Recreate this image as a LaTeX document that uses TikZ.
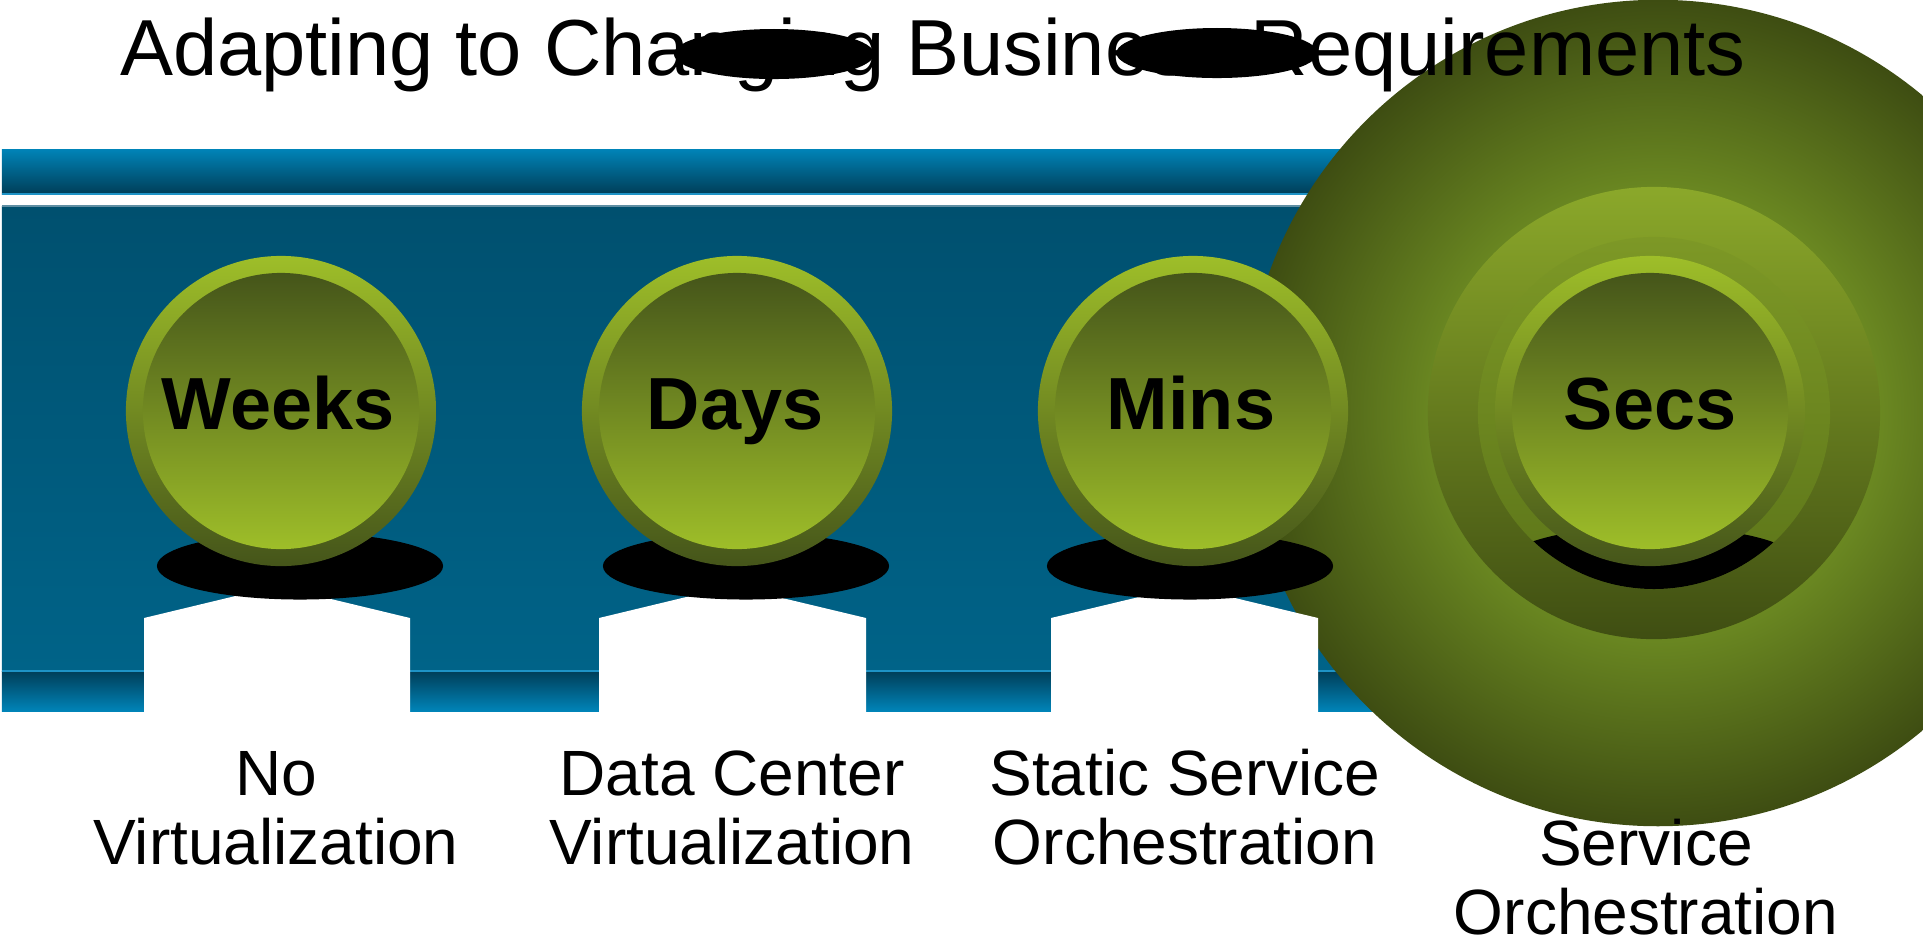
\documentclass[tikz,border=0pt]{standalone}
\usepackage{fontspec}
\setmainfont{Liberation Sans}
\usetikzlibrary{shapes.geometric}
\definecolor{barlight}{HTML}{0084B8}
\definecolor{bardark}{HTML}{003E58}
\definecolor{paneltop}{HTML}{00506F}
\definecolor{panelbottom}{HTML}{006388}
\definecolor{edgeblue}{HTML}{1E93C6}
\definecolor{panelrim}{HTML}{5F8EA3}
\definecolor{greenlight}{HTML}{9EBE29}
\definecolor{greendark}{HTML}{45551A}
\definecolor{halotop}{HTML}{8BA82A}
\definecolor{halobottom}{HTML}{3F4E12}
\definecolor{collartop}{HTML}{7D9826}
\definecolor{collarbottom}{HTML}{5C7519}
\definecolor{glowin}{HTML}{7A9A24}
\definecolor{glowmid}{HTML}{6C8A22}
\definecolor{glowout}{HTML}{3E4D12}
\pgfdeclareradialshading{bigglow}{\pgfpoint{0bp}{0bp}}{color(0bp)=(glowin); color(13bp)=(glowmid); color(25bp)=(glowout); color(50bp)=(glowout)}

\begin{document}
\begin{tikzpicture}[
    x=0.01cm, y=-0.01cm,
    font=\fontsize{18.2}{19.4}\selectfont,
    ring/.style={circle, inner sep=0pt, minimum size=3.1cm, top color=greenlight, bottom color=greendark},
    face/.style={circle, inner sep=0pt, minimum size=2.76cm, top color=greendark, bottom color=greenlight},
    shadowblob/.style={ellipse, fill=black, inner sep=0pt, minimum width=2.86cm, minimum height=0.67cm},
    pedestal/.style={fill=white},
    dialtext/.style={font=\fontsize{21}{25}\selectfont\bfseries, anchor=base},
    caption/.style={align=center, anchor=base}
]
    \useasboundingbox (0,0) rectangle (1923,938);
    \clip (0,0) rectangle (1923,938);

    % Blue bars
    \shade[top color=barlight, bottom color=bardark] (2,149) rectangle (1923,194);
    \draw[edgeblue, line width=0.6pt] (2,194) -- (1923,194);
    \shade[top color=paneltop, bottom color=panelbottom] (2,206) rectangle (1923,671);
    \draw[panelrim, line width=0.5pt] (2,206) -- (1923,206);
    \shade[top color=bardark, bottom color=barlight] (2,671) rectangle (1923,711);
    \draw[edgeblue, line width=0.6pt] (2,671) -- (1923,671);

    % Big glow behind Secs
    \node[circle, inner sep=0pt, minimum size=8.26cm, shade, shading=bigglow] (secs_glow) at (1658,413) {};

    % Pedestals
    \fill[pedestal] (144,712) -- (144,618) -- (277,586) -- (410,618) -- (410,712) -- cycle;
    \fill[pedestal] (599,712) -- (599,618) -- (732,586) -- (866,618) -- (866,712) -- cycle;
    \fill[pedestal] (1051,712) -- (1051,618) -- (1185,586) -- (1318,618) -- (1318,712) -- cycle;

    % Shadows
    \node[shadowblob] (weeks_shadow) at (300,566) {};
    \node[shadowblob] (days_shadow) at (746,566) {};
    \node[shadowblob] (mins_shadow) at (1190,566) {};

    % Dials
    \node[ring] (weeks_ring) at (281,411) {};
    \node[face] (weeks_face) at (281,411) {};
    \node[dialtext] (weeks) at (278,429) {Weeks};

    \node[ring] (days_ring) at (737,411) {};
    \node[face] (days_face) at (737,411) {};
    \node[dialtext] (days) at (735,429) {Days};

    \node[ring] (mins_ring) at (1193,411) {};
    \node[face] (mins_face) at (1193,411) {};
    \node[dialtext] (mins) at (1191,429) {Mins};

    % Secs dial with its halo
    \node[circle, inner sep=0pt, minimum size=4.52cm, top color=halotop, bottom color=halobottom] (secs_halo) at (1654,413) {};
    \node[circle, inner sep=0pt, minimum size=3.52cm, top color=collartop, bottom color=collarbottom] (secs_collar) at (1654,413) {};
    \begin{scope}
        \clip (1654,413) circle [radius=176];
        \node[shadowblob] (secs_shadow) at (1652,560) {};
    \end{scope}
    \node[ring] (secs_ring) at (1650,411) {};
    \node[face] (secs_face) at (1650,411) {};
    \node[dialtext] (secs) at (1650,429) {Secs};

    % Title
    \node[font=\fontsize{22.6}{27}\selectfont, anchor=base] (title) at (933,75) {Adapting to Changing Business Requirements};
    \node[shadowblob, minimum width=2cm, minimum height=0.5cm] (title_blot_a) at (774,54) {};
    \node[shadowblob, minimum width=2.01cm, minimum height=0.5cm] (title_blot_b) at (1217,53) {};

    % Captions
    \node[caption] (cap_none) at (276,864) {No\\Virtualization};
    \node[caption] (cap_dc) at (732,864) {Data Center\\Virtualization};
    \node[caption] (cap_static) at (1185,864) {Static Service\\Orchestration};
    \node[caption] (cap_dynamic) at (1646,934) {Service\\Orchestration};

\end{tikzpicture}
\end{document}
